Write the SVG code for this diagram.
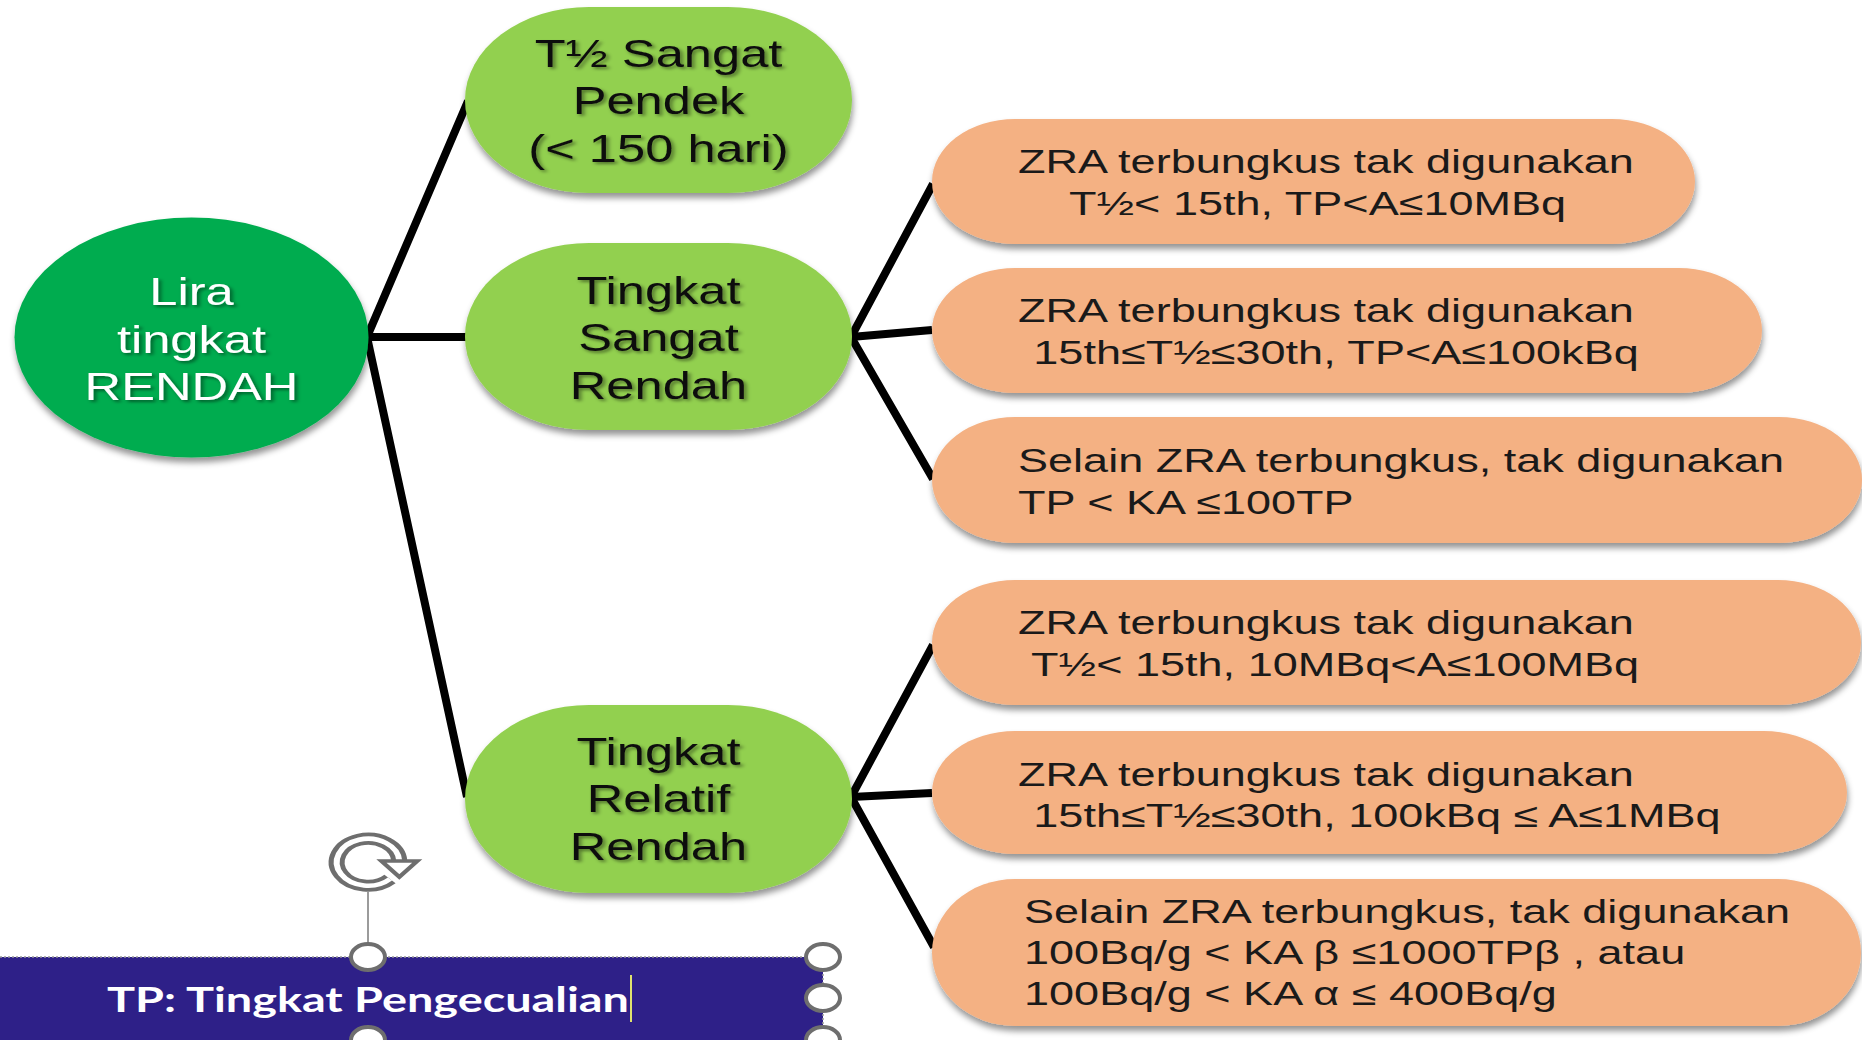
<svg xmlns="http://www.w3.org/2000/svg" width="1862" height="1040" viewBox="0 0 1862 1040">
  <defs>
    <filter id="shadow" x="-10%" y="-15%" width="125%" height="145%">
      <feDropShadow dx="1" dy="5" stdDeviation="3" flood-color="#000" flood-opacity="0.42"/>
    </filter>
    <filter id="tshadow" x="-10%" y="-20%" width="125%" height="150%">
      <feDropShadow dx="2" dy="2" stdDeviation="1.6" flood-color="#000" flood-opacity="0.45"/>
    </filter>
    <style>
      .root { fill: #00ac4f; }
      .lvl1 { fill: #92d050; }
      .leaf { fill: #f4b183; }
      .gt { font-family: "Liberation Sans", Arial, sans-serif; font-size: 38px; fill: #111; text-anchor: middle; }
      .wt { font-family: "Liberation Sans", Arial, sans-serif; font-size: 38px; fill: #fff; text-anchor: middle; }
      .ot { font-family: "Liberation Sans", Arial, sans-serif; font-size: 33.8px; fill: #1a1a1a; }
      .conn { fill: none; stroke: #000; stroke-width: 8; stroke-linejoin: miter; }
      .handle { fill: #fff; stroke: #6e6e6e; stroke-width: 4; }
    </style>
  </defs>

  <rect width="1862" height="1040" fill="#fff"/>

  <!-- connectors -->
  <g id="connectors">
    <path class="conn" d="M468,101 L367,337 L467,797"/>
    <path class="conn" d="M367,337 L466,337"/>
    <path class="conn" d="M933,184 L851,337 L933,479"/>
    <path class="conn" d="M851,337 L932,330"/>
    <path class="conn" d="M933,645 L851,797 L934,947"/>
    <path class="conn" d="M851,797 L932,793"/>
  </g>

  <!-- root -->
  <g id="node-root">
    <ellipse class="root" cx="191.5" cy="337.5" rx="177" ry="120" filter="url(#shadow)"/>
    <text class="wt" transform="translate(191.5 0) scale(1.333 1)" filter="url(#tshadow)"><tspan x="0" y="305">Lira</tspan><tspan x="0" y="353">tingkat</tspan><tspan x="0" y="400">RENDAH</tspan></text>
  </g>

  <!-- second level -->
  <g id="node-pendek">
    <rect class="lvl1" x="465" y="7" width="387" height="186" rx="124" ry="93" filter="url(#shadow)"/>
    <text class="gt" transform="translate(658.5 0) scale(1.333 1)" filter="url(#tshadow)"><tspan x="0" y="67">T½ Sangat</tspan><tspan x="0" y="114.5">Pendek</tspan><tspan x="0" y="162">(&lt; 150 hari)</tspan></text>
  </g>

  <g id="node-sangat-rendah">
    <rect class="lvl1" x="465" y="243" width="387" height="187" rx="124" ry="93" filter="url(#shadow)"/>
    <text class="gt" transform="translate(658.5 0) scale(1.333 1)" filter="url(#tshadow)"><tspan x="0" y="304">Tingkat</tspan><tspan x="0" y="351.5">Sangat</tspan><tspan x="0" y="399">Rendah</tspan></text>
  </g>

  <g id="node-relatif-rendah">
    <rect class="lvl1" x="465" y="705" width="387" height="188" rx="124" ry="94" filter="url(#shadow)"/>
    <text class="gt" transform="translate(658.5 0) scale(1.333 1)" filter="url(#tshadow)"><tspan x="0" y="765">Tingkat</tspan><tspan x="0" y="812.5">Relatif</tspan><tspan x="0" y="860">Rendah</tspan></text>
  </g>

  <!-- leaves -->
  <g id="leaf-1">
    <rect class="leaf" x="932" y="119" width="763" height="125" rx="83" ry="62.5" filter="url(#shadow)"/>
    <text class="ot" transform="translate(1018 0) scale(1.333 1)"><tspan x="0" y="173">ZRA terbungkus tak digunakan</tspan><tspan x="38.3" y="215">T½&lt; 15th, TP&lt;A≤10MBq</tspan></text>
  </g>

  <g id="leaf-2">
    <rect class="leaf" x="932" y="268" width="830" height="125" rx="83" ry="62.5" filter="url(#shadow)"/>
    <text class="ot" transform="translate(1018 0) scale(1.333 1)"><tspan x="0" y="322.5">ZRA terbungkus tak digunakan</tspan><tspan x="11.5" y="364.5">15th≤T½≤30th, TP&lt;A≤100kBq</tspan></text>
  </g>

  <g id="leaf-3">
    <rect class="leaf" x="932" y="417" width="930" height="126" rx="83" ry="63" filter="url(#shadow)"/>
    <text class="ot" transform="translate(1018 0) scale(1.333 1)"><tspan x="0" y="472">Selain ZRA terbungkus, tak digunakan</tspan><tspan x="0" y="514">TP &lt; KA ≤100TP</tspan></text>
  </g>

  <g id="leaf-4">
    <rect class="leaf" x="932" y="580" width="929" height="125" rx="83" ry="62.5" filter="url(#shadow)"/>
    <text class="ot" transform="translate(1018 0) scale(1.333 1)"><tspan x="0" y="634.5">ZRA terbungkus tak digunakan</tspan><tspan x="9.8" y="676.5">T½&lt; 15th, 10MBq&lt;A≤100MBq</tspan></text>
  </g>

  <g id="leaf-5">
    <rect class="leaf" x="932" y="731" width="915" height="123" rx="83" ry="61.5" filter="url(#shadow)"/>
    <text class="ot" transform="translate(1018 0) scale(1.333 1)"><tspan x="0" y="786">ZRA terbungkus tak digunakan</tspan><tspan x="11.5" y="827">15th≤T½≤30th, 100kBq ≤ A≤1MBq</tspan></text>
  </g>

  <g id="leaf-6">
    <rect class="leaf" x="932" y="879" width="929" height="147" rx="83" ry="73.5" filter="url(#shadow)"/>
    <text class="ot" transform="translate(1024 0) scale(1.333 1)"><tspan x="0" y="923.5">Selain ZRA terbungkus, tak digunakan</tspan><tspan x="0" y="964.5">100Bq/g &lt; KA β ≤1000TPβ , atau</tspan><tspan x="0" y="1005.5">100Bq/g &lt; KA α ≤ 400Bq/g</tspan></text>
  </g>

  <!-- legend text box, shown selected -->
  <g id="legend">
    <rect x="0" y="957" width="823" height="83" fill="#2e2088"/>
    <path d="M0,957 H823 V1040" fill="none" stroke="#9a9a9a" stroke-width="1.5" stroke-dasharray="2 2"/>
    <text x="107" y="1012" textLength="522" lengthAdjust="spacingAndGlyphs" font-family="Lato, 'Open Sans', sans-serif" font-weight="bold" font-size="35" fill="#fff">TP: Tingkat Pengecualian</text>
    <line x1="631" y1="975" x2="631" y2="1022" stroke="#dfe26e" stroke-width="2"/>
    <line x1="368" y1="892" x2="368" y2="943" stroke="#7a7a7a" stroke-width="1.5"/>
    <g transform="translate(368 862) scale(1.333 1)">
      <path d="M16.5,17 A23.5,23.5 0 1 1 23.5,-1" fill="none" stroke="#6e6e6e" stroke-width="12"/>
      <path d="M16.5,17 A23.5,23.5 0 1 1 23.5,-1" fill="none" stroke="#fff" stroke-width="4.5"/>
      <polygon points="10,-1 37,-1 23.5,15" fill="#fff" stroke="#6e6e6e" stroke-width="3.5" stroke-linejoin="miter"/>
    </g>
    <ellipse class="handle" cx="368" cy="957" rx="17" ry="13"/>
    <ellipse class="handle" cx="823" cy="957" rx="17" ry="13"/>
    <ellipse class="handle" cx="823" cy="998" rx="17" ry="13"/>
    <ellipse class="handle" cx="368" cy="1040" rx="17" ry="13"/>
    <ellipse class="handle" cx="823" cy="1040" rx="17" ry="13"/>
  </g>
</svg>
